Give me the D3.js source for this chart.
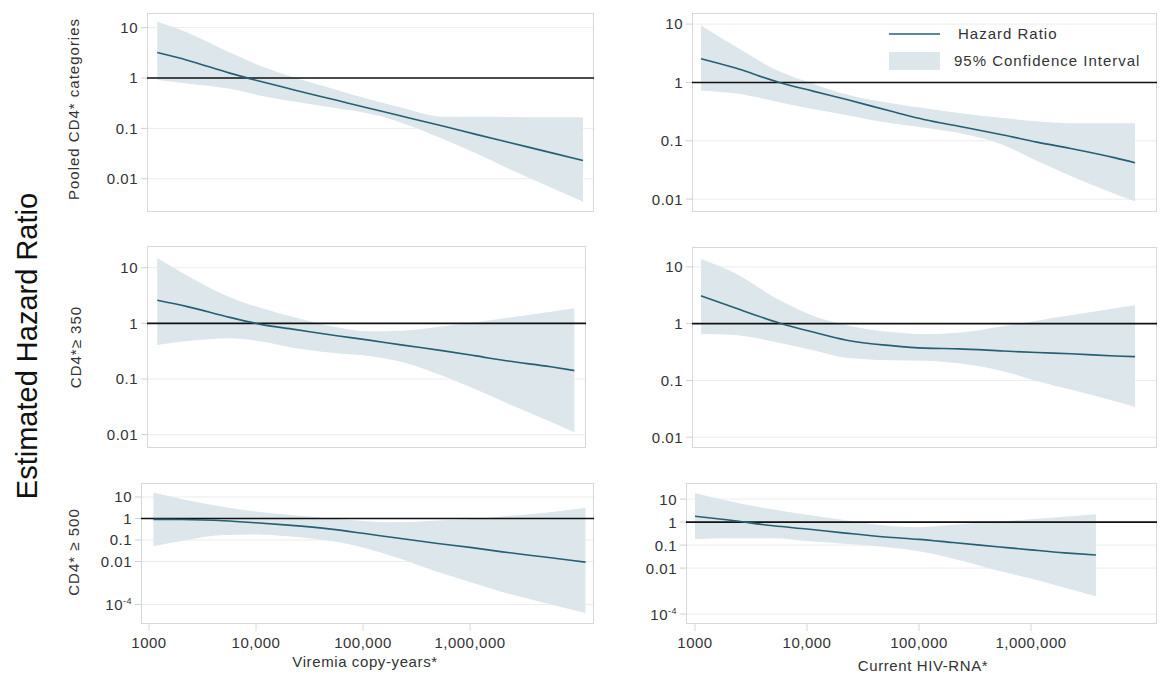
<!DOCTYPE html>
<html><head><meta charset="utf-8">
<script src="https://cdn.jsdelivr.net/npm/d3@7"></script>
<style>
body{margin:0;background:#fff;}
svg{display:block;font-family:"Liberation Sans",Arial,sans-serif;}
</style></head><body>
<svg id="c" width="1161" height="682"></svg>
<script>
// ---------- DATA ----------
// Left column: Viremia copy-years*, right column: Current HIV-RNA*
const xViremiaPooled = [1050, 2000, 5000, 10000, 20000, 50000, 100000, 200000, 500000, 1000000, 2000000, 5000000, 10000000];
const hrViremiaPooled = [3.2, 2.26, 1.25, 0.84, 0.58, 0.36, 0.25, 0.176, 0.11, 0.076, 0.053, 0.033, 0.023];
const loViremiaPooled = [0.91, 0.78, 0.61, 0.44, 0.34, 0.25, 0.197, 0.13, 0.061, 0.032, 0.016, 0.0067, 0.0035];
const hiViremiaPooled = [13, 8, 3.2, 1.7, 1.02, 0.58, 0.38, 0.26, 0.17, 0.17, 0.168, 0.166, 0.166];

const xRnaPooled = [1000, 2000, 5000, 10000, 20000, 50000, 100000, 200000, 500000, 1000000, 2000000, 5000000, 7500000];
const hrRnaPooled = [2.55, 1.78, 1.0, 0.71, 0.51, 0.32, 0.23, 0.178, 0.126, 0.095, 0.074, 0.051, 0.042];
const loRnaPooled = [0.73, 0.65, 0.46, 0.35, 0.275, 0.20, 0.168, 0.136, 0.085, 0.045, 0.025, 0.0123, 0.0092];
const hiRnaPooled = [9.5, 4.2, 1.55, 0.95, 0.62, 0.44, 0.36, 0.30, 0.245, 0.216, 0.2, 0.2, 0.2];

const xViremia350 = [1050, 2000, 5000, 10000, 20000, 50000, 100000, 200000, 500000, 1000000, 2000000, 5000000, 8300000];
const hrViremia350 = [2.6, 2.0, 1.28, 0.95, 0.78, 0.60, 0.50, 0.41, 0.32, 0.26, 0.21, 0.166, 0.142];
const loViremia350 = [0.41, 0.48, 0.54, 0.47, 0.36, 0.29, 0.26, 0.204, 0.112, 0.065, 0.036, 0.017, 0.011];
const hiViremia350 = [15, 7.2, 2.95, 1.86, 1.29, 0.85, 0.72, 0.74, 0.89, 1.05, 1.26, 1.62, 1.85];

const xRna350 = [1000, 2000, 5000, 10000, 20000, 50000, 100000, 200000, 500000, 1000000, 2000000, 5000000, 7500000];
const hrRna350 = [3.1, 1.9, 1.03, 0.71, 0.51, 0.41, 0.37, 0.36, 0.33, 0.31, 0.295, 0.27, 0.262];
const loRna350 = [0.66, 0.63, 0.46, 0.34, 0.25, 0.226, 0.223, 0.20, 0.145, 0.098, 0.069, 0.043, 0.034];
const hiRna350 = [13.8, 7.8, 2.6, 1.38, 0.94, 0.71, 0.65, 0.69, 0.90, 1.13, 1.4, 1.86, 2.1];

const xViremia500 = [1100, 2000, 5000, 10000, 20000, 50000, 100000, 200000, 500000, 1000000, 2000000, 5000000, 12000000];
const hrViremia500 = [0.91, 0.89, 0.78, 0.63, 0.49, 0.32, 0.204, 0.126, 0.069, 0.045, 0.028, 0.016, 0.0093];
const loViremia500 = [0.051, 0.089, 0.17, 0.18, 0.148, 0.089, 0.045, 0.016, 0.0032, 0.0011, 0.00038, 0.000117, 0.00004];
const hiViremia500 = [16, 8, 3.4, 2.1, 1.5, 1.0, 0.76, 0.66, 0.8, 0.93, 1.23, 1.86, 3.1];

const xRna500 = [1000, 2000, 5000, 10000, 20000, 50000, 100000, 200000, 500000, 1000000, 2000000, 3800000];
const hrRna500 = [1.8, 1.23, 0.69, 0.5, 0.35, 0.224, 0.178, 0.129, 0.085, 0.062, 0.046, 0.037];
const loRna500 = [0.178, 0.2, 0.2, 0.15, 0.117, 0.083, 0.054, 0.026, 0.0079, 0.0035, 0.0014, 0.0006];
const hiRna500 = [18.6, 8.3, 3.5, 2.1, 1.29, 0.71, 0.6, 0.76, 1.05, 1.32, 1.7, 2.2];

const xTickValues = [1000, 10000, 100000, 1000000];
const xTickLabels = ["1000", "10,000", "100,000", "1,000,000"];
const yTickValues = [10, 1, 0.1, 0.01];
const yTickLabels = ["10", "1", "0.1", "0.01"];
const yTickValuesLow = [10, 1, 0.1, 0.01, 0.0001];
const yTickLabelsLow = ["10", "1", "0.1", "0.01", "10^-4"];
const rowLabels = ["Pooled CD4* categories", "CD4*\u2265 350", "CD4* \u2265 500"];
const xTitles = ["Viremia copy-years*", "Current HIV-RNA*"];
const legendLabels = ["Hazard Ratio", "95% Confidence Interval"];
const yTitle = "Estimated Hazard Ratio";

// ---------- LAYOUT ----------
const BAND = "#dce6eb", LINE = "#245f73", GRID = "#ececec", FRAME = "#d8d8d8", TXT = "#333";
const colCfg = [{ppd: 107, off: 8}, {ppd: 112, off: 9}];
const panels = [
  {x: xViremiaPooled, hr: hrViremiaPooled, lo: loViremiaPooled, hi: hiViremiaPooled, col: 0, f: [147, 594, 13, 212], yl: [-2.66, 1.29], low: false},
  {x: xRnaPooled, hr: hrRnaPooled, lo: loRnaPooled, hi: hiRnaPooled, col: 1, f: [692, 1157, 13, 212], yl: [-2.22, 1.19], low: false},
  {x: xViremia350, hr: hrViremia350, lo: loViremia350, hi: hiViremia350, col: 0, f: [147, 586, 246, 448], yl: [-2.24, 1.39], low: false},
  {x: xRna350, hr: hrRna350, lo: loRna350, hi: hiRna350, col: 1, f: [692, 1157, 247, 448], yl: [-2.19, 1.35], low: false},
  {x: xViremia500, hr: hrViremia500, lo: loViremia500, hi: hiViremia500, col: 0, f: [141, 594, 483, 624], yl: [-4.91, 1.65], low: true},
  {x: xRna500, hr: hrRna500, lo: loRna500, hi: hiRna500, col: 1, f: [686, 1157, 483, 624], yl: [-4.43, 1.70], low: true}
];

const svg = d3.select("#c");

panels.forEach((p, i) => {
  const [x0, x1, y0, y1] = p.f;
  const cc = colCfg[p.col];
  const lo10 = 3 - cc.off / cc.ppd;
  const xs = d3.scaleLog().domain([Math.pow(10, lo10), Math.pow(10, lo10 + (x1 - x0) / cc.ppd)]).range([x0, x1]);
  const ys = d3.scaleLog().domain([Math.pow(10, p.yl[0]), Math.pow(10, p.yl[1])]).range([y1, y0]);
  const g = svg.append("g");
  const tv = p.low ? yTickValuesLow : yTickValues;
  const tl = p.low ? yTickLabelsLow : yTickLabels;

  // gridlines
  g.selectAll("line.grid").data(tv).join("line")
    .attr("x1", x0).attr("x2", x1).attr("y1", d => ys(d)).attr("y2", d => ys(d))
    .attr("stroke", GRID).attr("stroke-width", 1);

  // y ticks
  g.selectAll("line.yt").data(tv).join("line")
    .attr("x1", x0 - 6).attr("x2", x0).attr("y1", d => ys(d)).attr("y2", d => ys(d))
    .attr("stroke", "#d0d0d0");
  tv.forEach((v, k) => {
    const t = g.append("text").attr("x", x0 - 9).attr("y", ys(v)).attr("dy", "0.36em")
      .attr("text-anchor", "end").attr("font-size", 15).attr("fill", TXT).attr("letter-spacing", 0.5);
    if (tl[k].indexOf("^") >= 0) {
      const parts = tl[k].split("^");
      t.append("tspan").text(parts[0]);
      t.append("tspan").text(parts[1]).attr("font-size", 9).attr("dy", -6);
    } else t.text(tl[k]);
  });

  const rows = p.x.map((x, k) => ({x, hr: p.hr[k], lo: p.lo[k], hi: p.hi[k]}));
  // band
  g.append("path").datum(rows)
    .attr("d", d3.area().x(d => xs(d.x)).y0(d => ys(d.lo)).y1(d => ys(d.hi)).curve(d3.curveMonotoneX))
    .attr("fill", BAND);

  // frame
  g.append("rect").attr("x", x0 + 0.5).attr("y", y0 + 0.5).attr("width", x1 - x0 - 1).attr("height", y1 - y0 - 1)
    .attr("fill", "none").attr("stroke", FRAME);

  // reference line at HR = 1
  g.append("line").attr("x1", x0).attr("x2", x1).attr("y1", ys(1)).attr("y2", ys(1))
    .attr("stroke", "#111").attr("stroke-width", 1.6);

  // hazard ratio line
  g.append("path").datum(rows)
    .attr("d", d3.line().x(d => xs(d.x)).y(d => ys(d.hr)).curve(d3.curveMonotoneX))
    .attr("fill", "none").attr("stroke", LINE).attr("stroke-width", 1.6);

  // x axis on bottom row
  if (p.low) {
    g.selectAll("line.xt").data(xTickValues).join("line")
      .attr("x1", d => xs(d)).attr("x2", d => xs(d)).attr("y1", y1).attr("y2", y1 + 7)
      .attr("stroke", "#d8d8d8");
    g.selectAll("text.xl").data(xTickValues).join("text")
      .attr("x", d => xs(d)).attr("y", 648).attr("text-anchor", "middle")
      .attr("font-size", 15).attr("fill", TXT).attr("letter-spacing", 0.5)
      .text((d, k) => xTickLabels[k]);
    g.append("text").attr("x", p.col === 0 ? 365 : 923).attr("y", p.col === 0 ? 667 : 671)
      .attr("text-anchor", "middle").attr("font-size", 15).attr("fill", TXT).attr("letter-spacing", 0.6)
      .text(xTitles[p.col]);
  }
});

// row labels
const rowPos = [[79, 109], [81, 347], [79, 552]];
rowLabels.forEach((t, k) => {
  svg.append("text").attr("transform", `translate(${rowPos[k][0]},${rowPos[k][1]}) rotate(-90)`)
    .attr("text-anchor", "middle").attr("font-size", 15).attr("fill", TXT).attr("letter-spacing", 1)
    .text(t);
});

// y title
svg.append("text").attr("transform", "translate(37,346) rotate(-90)")
  .attr("text-anchor", "middle").attr("font-size", 29).attr("fill", "#111").text(yTitle);

// legend
const lg = svg.append("g");
lg.append("line").attr("x1", 889).attr("x2", 940).attr("y1", 34).attr("y2", 34)
  .attr("stroke", LINE).attr("stroke-width", 1.6);
lg.append("text").attr("x", 958).attr("y", 34).attr("dy", "0.36em").attr("font-size", 15)
  .attr("fill", TXT).attr("letter-spacing", 1).text(legendLabels[0]);
lg.append("rect").attr("x", 889).attr("y", 52).attr("width", 51).attr("height", 18).attr("fill", BAND);
lg.append("text").attr("x", 954).attr("y", 61).attr("dy", "0.36em").attr("font-size", 15)
  .attr("fill", TXT).attr("letter-spacing", 1).text(legendLabels[1]);
</script>
</body></html>
